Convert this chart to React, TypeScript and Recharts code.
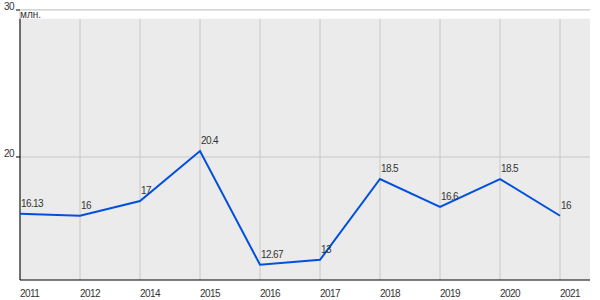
import {
  LineChart,
  Line,
  XAxis,
  YAxis,
  CartesianGrid,
  ReferenceArea,
  ReferenceLine,
  LabelList,
} from "recharts";

const years = ["2011", "2012", "2014", "2015", "2016", "2017", "2018", "2019", "2020", "2021"];
const values = [16.13, 16, 17, 20.4, 12.67, 13, 18.5, 16.6, 18.5, 16];
const yTicks = [20, 30];
const unitLabel = "млн.";

// x is the position in the year list, so the plot can run half a step past the last year
const data = years.map((year, i) => ({ idx: i, year, value: values[i] }));
const xTicks = years.map((_, i) => i);

const Y_MIN = 11.63;
const STRIP_BOTTOM = 29.41; // gray plot area stops just under the 30 line

const FONT = "'Liberation Sans', Arial, sans-serif";
const TEXT = "#333333";
const SPACING = -0.6;

function XTick(props: any) {
  const { x, y, payload } = props;
  return (
    <text x={x} y={y + 9} textAnchor="start" fontSize={10} fontFamily={FONT} fill={TEXT} letterSpacing={SPACING}>
      {years[payload.value]}
    </text>
  );
}

function YTick(props: any) {
  const { x, y, payload } = props;
  return (
    <text x={x} y={y} textAnchor="end" fontSize={10} fontFamily={FONT} fill={TEXT} letterSpacing={SPACING}>
      {payload.value}
    </text>
  );
}

function PointLabel(props: any) {
  const { x, y, value } = props;
  return (
    <text x={x + 1} y={y - 7} textAnchor="start" fontSize={10} fontFamily={FONT} fill={TEXT} letterSpacing={SPACING}>
      {value}
    </text>
  );
}

export default function App() {
  return (
    <div style={{ position: "absolute", left: 0, top: 0, width: 600, height: 300, background: "#fff" }}>
      <LineChart width={600} height={300} data={data} margin={{ top: 10, right: 10, left: 0, bottom: 0 }}>
        <CartesianGrid
          stroke="#c8c8c8"
          fill="#ebebeb"
          fillOpacity={1}
          horizontalValues={yTicks}
          verticalValues={xTicks}
        />
        <XAxis
          dataKey="idx"
          type="number"
          domain={[0, years.length - 0.5]}
          ticks={xTicks}
          height={20}
          tickLine={false}
          axisLine={{ stroke: "#000" }}
          tick={<XTick />}
          interval={0}
        />
        <YAxis
          width={20}
          domain={[Y_MIN, 30]}
          ticks={yTicks}
          tickSize={4}
          tickMargin={2}
          tickLine={{ stroke: "#000" }}
          axisLine={false}
          tick={<YTick />}
        />
        <ReferenceArea
          y1={STRIP_BOTTOM}
          y2={30}
          fill="#ffffff"
          fillOpacity={1}
          stroke="none"
          label={{ value: unitLabel, position: "insideLeft", offset: 0, fontSize: 10, fill: TEXT, fontFamily: FONT }}
        />
        <ReferenceLine y={30} stroke="#c8c8c8" />
        <ReferenceLine
          segment={[
            { x: 0, y: Y_MIN },
            { x: 0, y: STRIP_BOTTOM },
          ]}
          stroke="#000"
        />
        <Line
          type="linear"
          dataKey="value"
          stroke="#0050e0"
          strokeWidth={2}
          dot={false}
          isAnimationActive={false}
        >
          <LabelList dataKey="value" content={<PointLabel />} />
        </Line>
      </LineChart>
    </div>
  );
}
